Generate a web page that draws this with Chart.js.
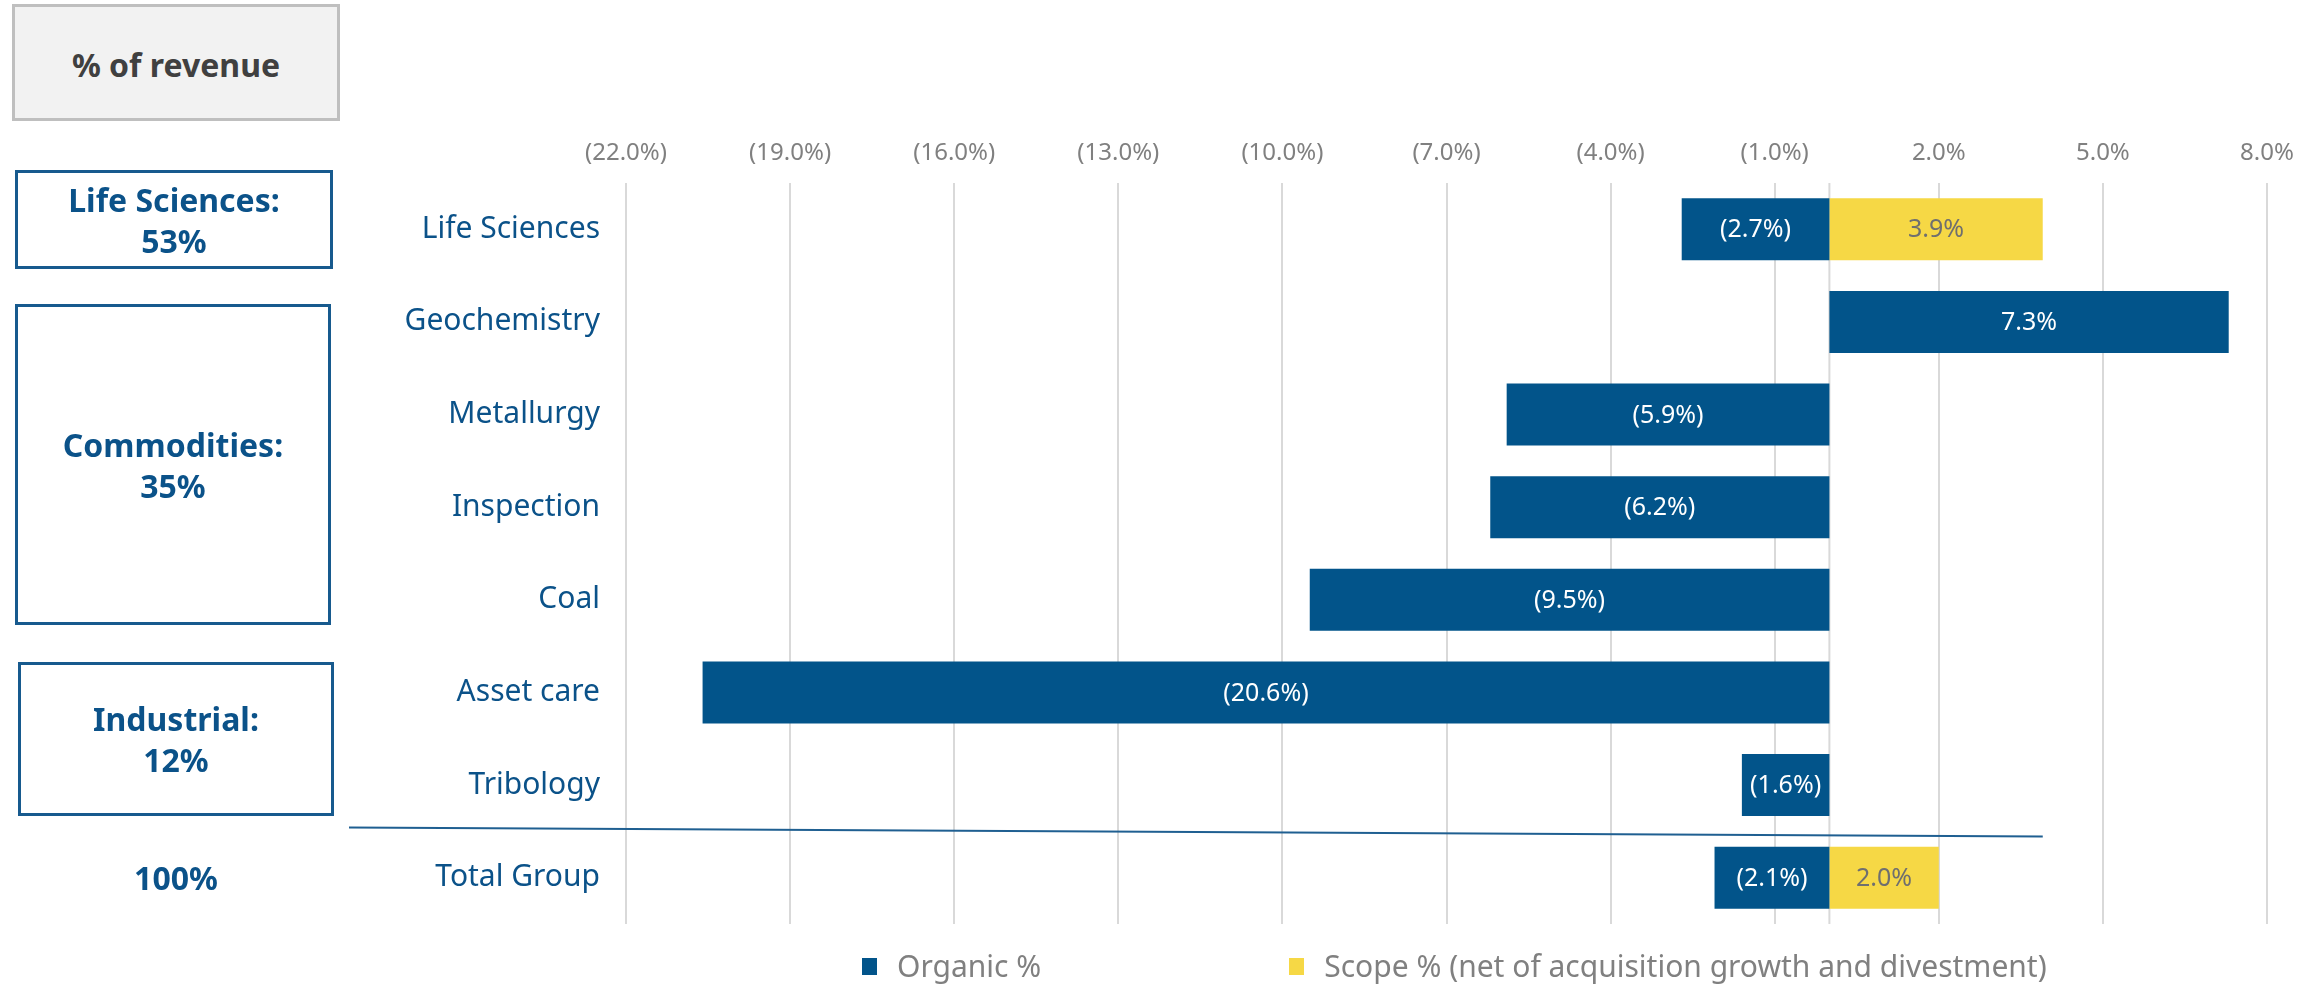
<!DOCTYPE html>
<html>
<head>
<meta charset="utf-8">
<script src="https://cdn.jsdelivr.net/npm/chart.js@4.4.1/dist/chart.umd.min.js"></script>
<style>
    body { margin: 0; background: #fff; font-family: "Noto Sans", sans-serif; }
    #wrap { position: relative; width: 2318px; height: 984px; overflow: hidden; }
    #chart { position: absolute; left: 0; top: 0; }
    .box {
        position: absolute;
        box-sizing: border-box;
        display: flex;
        align-items: center;
        justify-content: center;
        text-align: center;
        font-weight: 700;
        font-size: 32px;
        line-height: 41px;
        color: #0b5289;
        border: 3px solid #175a8e;
    }
    .revenue { background: #f2f2f2; border-color: #bfbfbf; color: #404040; padding-top: 4px; }
    .plain { border: none; }
    #legend { position: absolute; left: 862px; top: 946px; display: flex; align-items: center; font-size: 30px; line-height: 40px; color: #808080; }
    .legend-item { display: flex; align-items: center; }
    .legend-item + .legend-item { margin-left: 248px; }
    .swatch { width: 15px; height: 17px; margin-right: 20px; }
</style>
</head>
<body>
<div id="wrap">
    <canvas id="chart" width="2318" height="984"></canvas>
    <div class="box revenue" style="left:12px; top:4px; width:328px; height:117px;">% of revenue</div>
    <div class="box" style="left:15px; top:170px; width:318px; height:99px;">Life Sciences:<br>53%</div>
    <div class="box" style="left:15px; top:304px; width:316px; height:321px;">Commodities:<br>35%</div>
    <div class="box" style="left:18px; top:662px; width:316px; height:154px;">Industrial:<br>12%</div>
    <div class="box plain" style="left:18px; top:850px; width:316px; height:54px;">100%</div>
    <div id="legend"></div>
</div>
<script>
// Data
const categories = ['Life Sciences', 'Geochemistry', 'Metallurgy', 'Inspection', 'Coal', 'Asset care', 'Tribology', 'Total Group'];
const organic = [-2.7, 7.3, -5.9, -6.2, -9.5, -20.6, -1.6, -2.1];
const scope = [3.9, null, null, null, null, null, null, 2.0];
const seriesNames = ['Organic %', 'Scope % (net of acquisition growth and divestment)'];
const seriesColors = ['#02548a', '#f6d845'];
const labelColors = ['#ffffff', '#6f6f6f'];
const xMin = -22, xMax = 8, xStep = 3;

const BLUE_TEXT = '#0b5289';
const GRID = '#d9d9d9';

function fmt(v) {
    const s = Math.abs(v).toFixed(1) + '%';
    return v < 0 ? '(' + s + ')' : s;
}

// Value labels inside the bars
const barLabels = {
    id: 'barLabels',
    afterDatasetsDraw(chart) {
        const ctx = chart.ctx;
        ctx.save();
        ctx.font = '25px "Noto Sans"';
        ctx.textAlign = 'center';
        ctx.textBaseline = 'middle';
        chart.data.datasets.forEach((ds, di) => {
            const meta = chart.getDatasetMeta(di);
            meta.data.forEach((el, i) => {
                const v = ds.data[i];
                if (v === null || v === undefined) return;
                const p = el.getProps(['x', 'y', 'base'], true);
                ctx.fillStyle = labelColors[di];
                ctx.fillText(fmt(v), (p.x + p.base) / 2, p.y + 1);
            });
        });
        ctx.restore();
    }
};

// Zero line and the separator above Total Group
const extras = {
    id: 'extras',
    beforeDatasetsDraw(chart) {
        const {ctx, chartArea, scales: {x}} = chart;
        ctx.save();
        const x0 = x.getPixelForValue(0);
        ctx.strokeStyle = GRID;
        ctx.lineWidth = 2;
        ctx.beginPath();
        ctx.moveTo(x0, chartArea.top);
        ctx.lineTo(x0, chartArea.bottom);
        ctx.stroke();
        ctx.restore();
    },
    afterDatasetsDraw(chart) {
        const {ctx, scales: {x, y}} = chart;
        const n = categories.length;
        const ySep = (y.getPixelForValue(n - 2) + y.getPixelForValue(n - 1)) / 2;
        ctx.save();
        ctx.strokeStyle = '#1f5f91';
        ctx.lineWidth = 2;
        ctx.beginPath();
        ctx.moveTo(349, ySep - 4);
        ctx.lineTo(x.getPixelForValue(3.9), ySep + 5);
        ctx.stroke();
        ctx.restore();
    }
};

new Chart(document.getElementById('chart'), {
    type: 'bar',
    data: {
        labels: categories,
        datasets: [
            { label: seriesNames[0], data: organic, backgroundColor: seriesColors[0] },
            { label: seriesNames[1], data: scope, backgroundColor: seriesColors[1] }
        ]
    },
    options: {
        indexAxis: 'y',
        responsive: false,
        animation: false,
        devicePixelRatio: 1,
        categoryPercentage: 1,
        barPercentage: 0.67,
        layout: { padding: { left: 0, top: 0, right: 51, bottom: 60 } },
        scales: {
            x: {
                position: 'top',
                stacked: true,
                min: xMin,
                max: xMax,
                grid: { color: GRID, lineWidth: 2, drawTicks: false },
                border: { display: false },
                ticks: {
                    stepSize: xStep,
                    padding: 15,
                    color: '#808080',
                    font: { family: 'Noto Sans', size: 24 },
                    callback: v => fmt(v)
                },
                afterFit: s => { s.height = 183; }
            },
            y: {
                stacked: true,
                grid: { display: false, drawTicks: false },
                border: { display: false },
                ticks: {
                    padding: 26,
                    color: BLUE_TEXT,
                    font: { family: 'Noto Sans', size: 30 }
                },
                afterFit: s => { s.width = 626; }
            }
        },
        plugins: {
            legend: { display: false },
            tooltip: { enabled: false }
        }
    },
    plugins: [barLabels, extras]
});

// Legend
const legend = document.getElementById('legend');
seriesNames.forEach((name, i) => {
    const item = document.createElement('div');
    item.className = 'legend-item';
    item.innerHTML = `<span class="swatch" style="background:${seriesColors[i]}"></span><span>${name}</span>`;
    legend.appendChild(item);
});
</script>
</body>
</html>
